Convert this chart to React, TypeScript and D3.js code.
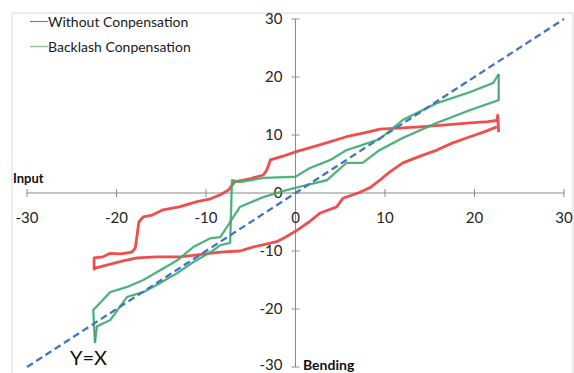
import React, { useMemo } from 'react';
import * as d3 from 'd3';

type Pt = [number, number];

// tick values shared by both axes
const ticks = [-30, -20, -10, 0, 10, 20, 30];

// Without compensation – upper branch (left to right)
const redUpper: Pt[] = [
  [-22.5, -13.3], [-22.5, -11.2], [-21.5, -11], [-20.7, -10.4], [-19.5, -10.5],
  [-18.3, -10.2], [-17.9, -9.5], [-17.5, -5], [-17, -4.1], [-16, -3.8],
  [-14.8, -2.9], [-13, -2.4], [-11, -1.5], [-9.5, -1], [-8.4, -0.3],
  [-7.5, 0.5], [-6.8, 1.9], [-5, 2.5], [-3.6, 3.1], [-3.2, 4],
  [-2.8, 5.7], [-1.5, 6.3], [0, 7.1], [2.7, 8.3], [5.7, 9.7],
  [8.3, 10.6], [9.4, 11], [11.5, 11.2], [13.9, 11.4], [16.5, 11.7],
  [19.5, 12.1], [21.5, 12.3], [22.5, 12.5], [22.6, 13.4], [22.7, 10.5],
];

// Without compensation – lower branch (right to left)
const redLower: Pt[] = [
  [22.5, 11.4], [21, 10.5], [19.5, 9.7], [17.5, 8.6], [15.8, 7.4],
  [14, 6.4], [12, 5.2], [10.5, 3.6], [9.4, 2.2], [8.3, 0.9],
  [7, 0], [5.3, -0.9], [4.6, -2.4], [2.7, -3.5], [1.5, -5],
  [0.2, -6.4], [-1, -7.5], [-2.1, -8.4], [-4.7, -9.3], [-6.2, -10],
  [-8.4, -10.2], [-10.5, -10.6], [-12.9, -11], [-15.5, -11], [-17.7, -11.2],
  [-19.5, -11.8], [-21, -12.4], [-22.5, -13],
];

// Backlash compensation – rising branch
const greenUp: Pt[] = [
  [-22.4, -25.8], [-22.2, -23], [-20.7, -21.9], [-18.8, -17.9], [-17, -17.1],
  [-15.1, -15.5], [-13.2, -13.8], [-11.4, -11.9], [-9.5, -10.2], [-8.4, -9],
  [-7.3, -8.6], [-7.1, 2.2], [-6.2, 1.9], [-3.6, 2.6], [0, 2.8],
  [1.6, 4.3], [3.9, 5.7], [5.7, 7.4], [7.5, 8.3], [9.4, 9.3],
  [12, 12.6], [15.8, 15.5], [19.5, 17.4], [22.1, 19], [22.7, 20.5],
];

// Backlash compensation – falling branch
const greenDown: Pt[] = [
  [22.7, 20.5], [22.7, 16], [19.5, 14.3], [15.8, 12.1], [12, 9.5],
  [9.4, 7.4], [7.5, 5.2], [5.7, 5.2], [3.5, 2.2], [1.3, 1.4],
  [-1, 0.5], [-3.6, -0.7], [-6.2, -2.4], [-8.4, -7.6], [-9.5, -7.8],
  [-11.4, -9.3], [-13.2, -11.6], [-15.1, -13.3], [-17, -15], [-18.8, -16.2],
  [-20.7, -17.1], [-22.6, -20.2], [-22.4, -25.8],
];

const identity: Pt[] = [[-30, -30], [30, 30]];

const FONT = 'Lato, "Open Sans", sans-serif';

const App: React.FC = () => {
  const width = 574;
  const height = 373;

  const { x, y, line } = useMemo(() => {
    const x = d3.scaleLinear().domain([-30, 30]).range([27, 564]);
    const y = d3.scaleLinear().domain([-30, 30]).range([367, 19]);
    const line = d3.line<Pt>()
      .x(d => x(d[0]))
      .y(d => y(d[1]));
    return { x, y, line };
  }, []);

  const axisColor = '#8a8a8a';
  const red = '#ee3b3b';
  const green = '#3dba7a';

  return (
    <svg
      width={width}
      height={height}
      style={{ position: 'absolute', left: 0, top: 0, background: '#fff' }}
      fontFamily={FONT}
    >
      {/* chart frame */}
      <rect x={12} y={13} width={561} height={380} fill="none" stroke="#dadada" strokeWidth="1" />

      {/* axes */}
      <line x1={x(-30)} x2={x(30)} y1={y(0)} y2={y(0)} stroke={axisColor} strokeWidth="1" />
      <line x1={x(0)} x2={x(0)} y1={y(30)} y2={y(-30)} stroke={axisColor} strokeWidth="1" />

      {ticks.map(t => (
        <g key={`xt${t}`}>
          <line x1={x(t)} x2={x(t)} y1={y(0) - 4} y2={y(0) + 4} stroke={axisColor} />
          <text x={x(t)} y={y(0) + 30} textAnchor="middle" fontSize="15" fill="#262626">
            {t}
          </text>
        </g>
      ))}
      {ticks.map(t => (
        <g key={`yt${t}`}>
          <line x1={x(0) - 4} x2={x(0) + 4} y1={y(t)} y2={y(t)} stroke={axisColor} />
          <text
            x={x(0) - 13}
            y={Math.min(y(t), 365)}
            dy="0.35em"
            textAnchor="end"
            fontSize="15"
            fill="#262626"
          >
            {t}
          </text>
        </g>
      ))}

      {/* axis titles */}
      <text x={13} y={183} fontSize="13" fontWeight="bold" fill="#111">Input</text>
      <text x={303} y={370} fontSize="14" fontWeight="bold" fill="#111">Bending</text>

      {/* measured loops */}
      <path d={line(redUpper) || ''} fill="none" stroke={red} strokeWidth="2.8" strokeLinejoin="round" opacity="0.9" />
      <path d={line(redLower) || ''} fill="none" stroke={red} strokeWidth="2.8" strokeLinejoin="round" opacity="0.9" />
      <path d={line(greenUp) || ''} fill="none" stroke={green} strokeWidth="2.4" strokeLinejoin="round" opacity="0.85" />
      <path d={line(greenDown) || ''} fill="none" stroke={green} strokeWidth="2.4" strokeLinejoin="round" opacity="0.85" />
      <path d={line(greenUp) || ''} fill="none" stroke="#4f8f68" strokeWidth="0.7" strokeLinejoin="round" />
      <path d={line(greenDown) || ''} fill="none" stroke="#4f8f68" strokeWidth="0.7" strokeLinejoin="round" />

      {/* Y = X reference */}
      <path d={line(identity) || ''} fill="none" stroke="#4472c4" strokeWidth="2.3" strokeDasharray="7,4" />
      <text x={70} y={365} fontSize="20" fill="#111">Y=X</text>

      {/* legend */}
      <line x1={30} x2={48} y1={21.5} y2={21.5} stroke="#e0506a" strokeWidth="1.2" />
      <text x={48} y={26.5} fontSize="14" fill="#1a1a1a">Without Conpensation</text>
      <line x1={30} x2={48} y1={46.5} y2={46.5} stroke="#9cbf9c" strokeWidth="1.5" />
      <text x={48} y={51.5} fontSize="14" fill="#1a1a1a">Backlash Conpensation</text>
    </svg>
  );
};

export default App;
